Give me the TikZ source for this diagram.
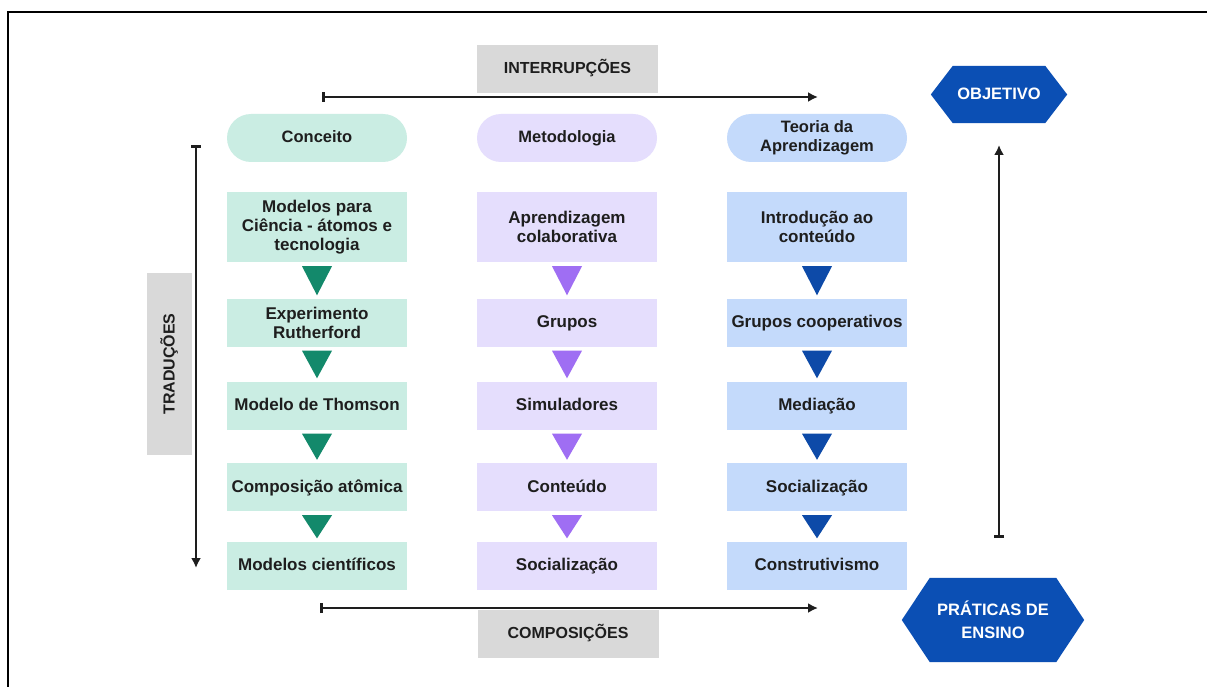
\documentclass[tikz,border=0pt]{standalone}
\usepackage{fontspec}
\setmainfont{Liberation Sans}
\usetikzlibrary{arrows.meta,calc,backgrounds}

\definecolor{ink}{HTML}{1E1E1E}
\definecolor{tealbox}{HTML}{CAEDE3}
\definecolor{lilacbox}{HTML}{E5DEFD}
\definecolor{bluebox}{HTML}{C4DAFB}
\definecolor{tealtri}{HTML}{13896B}
\definecolor{lilactri}{HTML}{9F6EF3}
\definecolor{bluetri}{HTML}{0D4AA8}
\definecolor{hexblue}{HTML}{0B4FB4}
\definecolor{labelgray}{HTML}{D9D9D9}

% downward triangle between two stacked boxes
\newcommand\flowtri[3]{%
  \fill[#3] ($(#1.south)+(-15,4)$) -- ($(#1.south)+(15,4)$) -- ($(#2.north)+(0,-3)$) -- cycle;}

% hexagon behind a node, pointed left and right
\newcommand\hexback[2]{%
  \begin{scope}[on background layer]
    \fill[hexblue] (#1.west) -- ($(#1.north west)+(#2,0)$) -- ($(#1.north east)+(-#2,0)$)
      -- (#1.east) -- ($(#1.south east)+(-#2,0)$) -- ($(#1.south west)+(#2,0)$) -- cycle;
  \end{scope}}

\begin{document}
\begin{tikzpicture}[x=1pt,y={(0pt,-1pt)},
  boxtext/.style={font=\fontsize{17}{19}\selectfont\bfseries, text=ink, align=center, inner sep=0pt},
  cellbox/.style={boxtext, minimum width=180pt, minimum height=48pt},
  oneline/.style={text height=12.5pt, text depth=2.5pt},
  tallbox/.style={cellbox, minimum height=70pt},
  pill/.style={cellbox, rounded corners=24pt, font=\fontsize{16.5}{19}\selectfont\bfseries},
  graylabel/.style={fill=labelgray, text=ink, font=\fontsize{16}{19}\selectfont\bfseries,
    inner sep=0pt, minimum width=181pt, minimum height=48pt, oneline},
  hexlabel/.style={text=white, font=\fontsize{16.5}{23}\selectfont\bfseries, align=center, inner sep=0pt},
  axis/.style={draw=ink, line width=2.8pt},
  axisarrow/.style={axis, {Bar[width=10pt,line width=2.8pt]}-{Latex[length=10pt,width=10pt]}},
  frame/.style={line width=2.5pt, draw=black}
]
\useasboundingbox (0,0) rectangle (1207,687);
\begin{scope}[on background layer]
  \fill[white] (0,0) rectangle (1207,687);
\end{scope}

% outer frame (only top and left edges fall inside the page)
\draw[frame] (8,700) -- (8,12) -- (1220,12);

% column headers
\node[pill, oneline, fill=tealbox]  (h1) at (317,138) {Conceito};
\node[pill, oneline, fill=lilacbox] (h2) at (567,138) {Metodologia};
\node[pill, fill=bluebox]  (h3) at (817,138) {Teoria da\\Aprendizagem};

% column 1: concept
\node[tallbox, fill=tealbox] (a1) at (317,227)   {Modelos para\\Ciência - átomos e\\tecnologia};
\node[cellbox, fill=tealbox] (a2) at (317,322.5) {Experimento\\Rutherford};
\node[cellbox, oneline, fill=tealbox] (a3) at (317,405.5) {Modelo de Thomson};
\node[cellbox, oneline, fill=tealbox] (a4) at (317,487)   {Composição atômica};
\node[cellbox, oneline, fill=tealbox] (a5) at (317,565.5) {Modelos científicos};

% column 2: methodology
\node[tallbox, fill=lilacbox] (b1) at (567,227)   {Aprendizagem\\colaborativa};
\node[cellbox, oneline, fill=lilacbox] (b2) at (567,322.5) {Grupos};
\node[cellbox, oneline, fill=lilacbox] (b3) at (567,405.5) {Simuladores};
\node[cellbox, oneline, fill=lilacbox] (b4) at (567,487)   {Conteúdo};
\node[cellbox, oneline, fill=lilacbox] (b5) at (567,565.5) {Socialização};

% column 3: learning theory
\node[tallbox, fill=bluebox] (c1) at (817,227)   {Introdução ao\\conteúdo};
\node[cellbox, oneline, fill=bluebox] (c2) at (817,322.5) {Grupos cooperativos};
\node[cellbox, oneline, fill=bluebox] (c3) at (817,405.5) {Mediação};
\node[cellbox, oneline, fill=bluebox] (c4) at (817,487)   {Socialização};
\node[cellbox, oneline, fill=bluebox] (c5) at (817,565.5) {Construtivismo};

% flow triangles
\flowtri{a1}{a2}{tealtri}\flowtri{a2}{a3}{tealtri}\flowtri{a3}{a4}{tealtri}\flowtri{a4}{a5}{tealtri}
\flowtri{b1}{b2}{lilactri}\flowtri{b2}{b3}{lilactri}\flowtri{b3}{b4}{lilactri}\flowtri{b4}{b5}{lilactri}
\flowtri{c1}{c2}{bluetri}\flowtri{c2}{c3}{bluetri}\flowtri{c3}{c4}{bluetri}\flowtri{c4}{c5}{bluetri}

% gray axis labels
\node[graylabel] (interr) at (567.5,69) {INTERRUPÇÕES};
\node[graylabel] (compos) at (568,633.5) {COMPOSIÇÕES};
\node[graylabel, rotate=90, minimum width=182pt, minimum height=45pt] (trad) at (169.5,364) {TRADUÇÕES};

% goal hexagons
\node[hexlabel, oneline, minimum width=136pt, minimum height=57pt] (obj) at (999,94.5) {OBJETIVO};
\hexback{obj}{22}
\node[hexlabel, minimum width=182pt, minimum height=84pt] (prat) at (993,620) {PRÁTICAS DE\\ENSINO};
\hexback{prat}{28}

% axes
\coordinate (topL) at (322,97);   \coordinate (topR) at (818,97);
\coordinate (botL) at (320,608);  \coordinate (botR) at (818,608);
\coordinate (lefT) at (196,145);  \coordinate (lefB) at (196,568);
\coordinate (rigB) at (999,538);  \coordinate (rigT) at (999,145);
\draw[axisarrow] (topL) -- (topR);
\draw[axisarrow] (botL) -- (botR);
\draw[axisarrow] (lefT) -- (lefB);
\draw[axisarrow] (rigB) -- (rigT);
\end{tikzpicture}
\end{document}
